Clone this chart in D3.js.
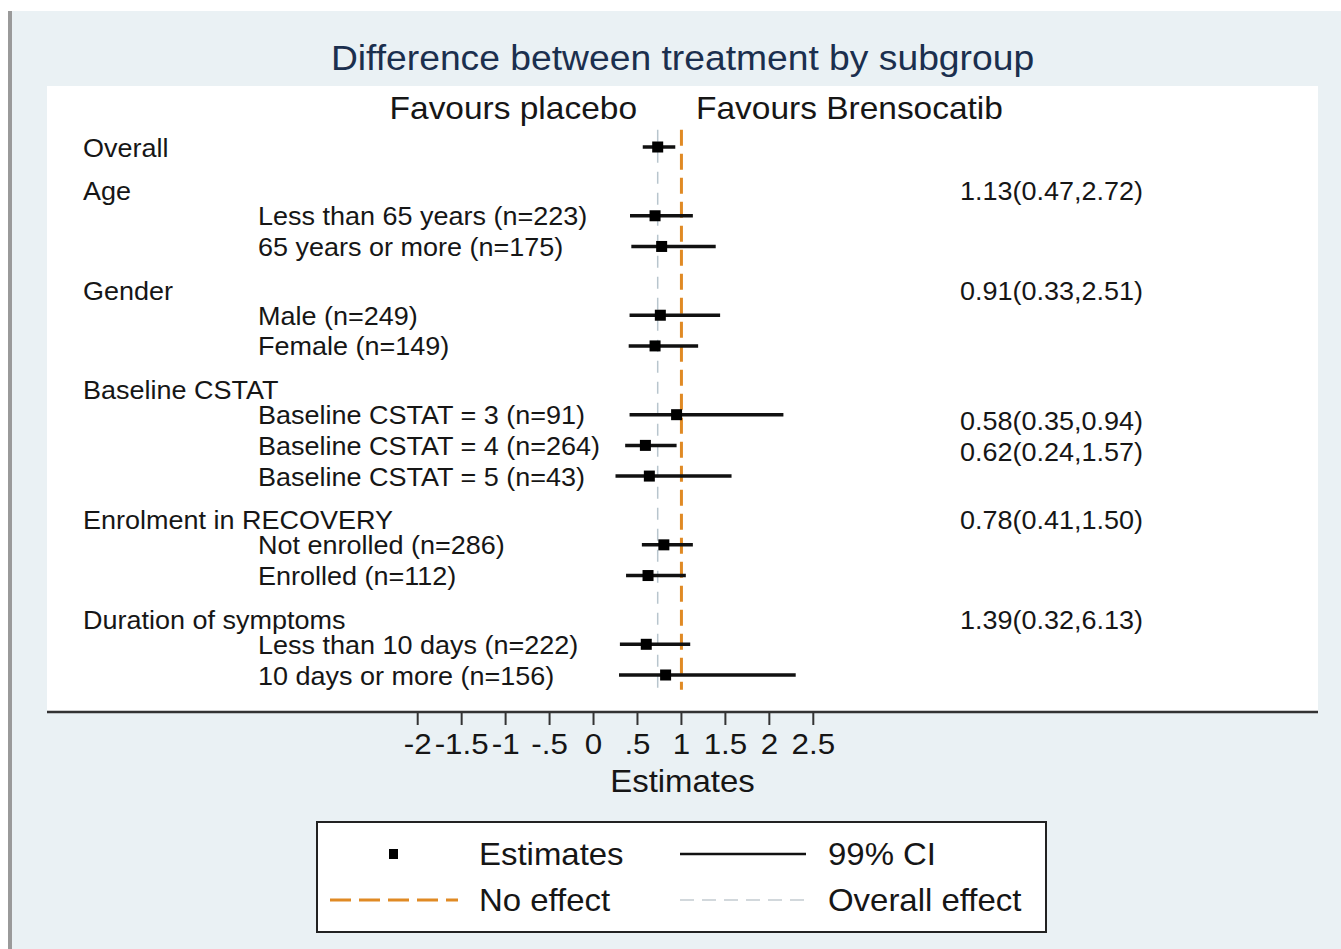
<!DOCTYPE html>
<html>
<head>
<meta charset="utf-8">
<script src="https://cdn.jsdelivr.net/npm/d3@7"></script>
<style>
  body { margin: 0; background: #fff; }
  text { font-family: "Liberation Sans", Arial, sans-serif; }
</style>
</head>
<body>
<script>
// Rows of the forest plot, top to bottom
var rowLabels = ["Overall", "Age", "Less than 65 years (n=223)", "65 years or more (n=175)",
  "Gender", "Male (n=249)", "Female (n=149)",
  "Baseline CSTAT", "Baseline CSTAT = 3 (n=91)", "Baseline CSTAT = 4 (n=264)", "Baseline CSTAT = 5 (n=43)",
  "Enrolment in RECOVERY", "Not enrolled (n=286)", "Enrolled (n=112)",
  "Duration of symptoms", "Less than 10 days (n=222)", "10 days or more (n=156)"];
// 0 = heading, 1 = subgroup
var rowLevel = [0, 0, 1, 1, 0, 1, 1, 0, 1, 1, 1, 0, 1, 1, 0, 1, 1];

var estimates = [0.73, null, 0.70, 0.775, null, 0.76, 0.70, null, 0.945, 0.59, 0.635, null, 0.80, 0.62, null, 0.60, 0.82];
var ciLower   = [0.56, null, 0.415, 0.43, null, 0.41, 0.40, null, 0.41, 0.36, 0.25, null, 0.55, 0.37, null, 0.30, 0.29];
var ciUpper   = [0.93, null, 1.13, 1.39, null, 1.44, 1.19, null, 2.16, 0.945, 1.57, null, 1.13, 1.05, null, 1.10, 2.30];

var interactionText = ["", "1.13(0.47,2.72)", "", "", "0.91(0.33,2.51)", "", "", "",
  "0.58(0.35,0.94)", "0.62(0.24,1.57)", "", "0.78(0.41,1.50)", "", "", "1.39(0.32,6.13)", "", ""];

var xTicks = [-2, -1.5, -1, -0.5, 0, 0.5, 1, 1.5, 2, 2.5];
var noEffect = 1;

var width = 1341, height = 949;
var sx = 1.08; // glyph width stretch of the original export

var svg = d3.select("body").append("svg")
            .attr("width", width)
            .attr("height", height);

function addText(x, y, str, size, anchor, color) {
  return svg.append("text")
            .attr("transform", "translate(" + x + "," + y + ") scale(" + sx + ",1)")
            .attr("font-size", size)
            .attr("text-anchor", anchor || "start")
            .attr("fill", color || "#161616")
            .text(str);
}

// graph region
svg.append("rect").attr("width", width).attr("height", height).attr("fill", "#fff");
svg.append("rect").attr("x", 12).attr("y", 11).attr("width", width - 12).attr("height", height - 11).attr("fill", "#eaf1f4");
svg.append("rect").attr("x", 8).attr("y", 11).attr("width", 4).attr("height", height - 11).attr("fill", "#9a9a9a");

// plot region
var plot = {left: 47, right: 1318, top: 86, bottom: 712};
svg.append("rect")
   .attr("x", plot.left).attr("y", plot.top)
   .attr("width", plot.right - plot.left).attr("height", plot.bottom - plot.top)
   .attr("fill", "#fff");

// row positions: heading gap, heading-to-first-item gap, item step
var pos = [], p = 0;
rowLevel.forEach(function(lv, i) {
  if (i > 0) {
    if (lv === 0) p += 1.42;
    else if (rowLevel[i - 1] === 0) p += 0.82;
    else p += 1;
  }
  pos.push(p);
});

var xScale = d3.scaleLinear().domain([-2, 2.5]).range([417.7, 813.3]);
var yScale = d3.scaleLinear().domain([0, d3.max(pos)]).range([147, 675]);

// reference lines
var refTop = yScale(-0.56), refBottom = yScale(d3.max(pos) + 0.48);
svg.append("line")
   .attr("x1", xScale(estimates[0])).attr("x2", xScale(estimates[0]))
   .attr("y1", refTop).attr("y2", refBottom)
   .attr("stroke", "#b8c5cd").attr("stroke-width", 1.5)
   .attr("stroke-dasharray", "12,9");
svg.append("line")
   .attr("x1", xScale(noEffect)).attr("x2", xScale(noEffect))
   .attr("y1", refTop).attr("y2", refBottom)
   .attr("stroke", "#e08a24").attr("stroke-width", 3)
   .attr("stroke-dasharray", "16,8");

// labels
rowLabels.forEach(function(lab, i) {
  addText(rowLevel[i] === 0 ? 83 : 258, yScale(pos[i]) + 9.5, lab, 25);
});

// interaction estimates on the right
interactionText.forEach(function(t, i) {
  if (!t) return;
  var nudge = rowLevel[i] === 1 ? 0.2 : 0;
  addText(960, yScale(pos[i] + nudge) + 9.5, t, 25);
});

// CIs and estimates
var rows = estimates.map(function(e, i) {
  return {est: e, lo: ciLower[i], hi: ciUpper[i], y: yScale(pos[i])};
}).filter(function(d) { return d.est !== null; });

svg.selectAll(".ci").data(rows).enter().append("line")
   .attr("class", "ci")
   .attr("x1", function(d) { return xScale(d.lo); })
   .attr("x2", function(d) { return xScale(d.hi); })
   .attr("y1", function(d) { return d.y; })
   .attr("y2", function(d) { return d.y; })
   .attr("stroke", "#111").attr("stroke-width", 3.5);

svg.selectAll(".est").data(rows).enter().append("rect")
   .attr("class", "est")
   .attr("x", function(d) { return xScale(d.est) - 5.5; })
   .attr("y", function(d) { return d.y - 5.5; })
   .attr("width", 11).attr("height", 11)
   .attr("fill", "#000");

// x axis
svg.append("line")
   .attr("x1", plot.left).attr("x2", plot.right)
   .attr("y1", plot.bottom).attr("y2", plot.bottom)
   .attr("stroke", "#333").attr("stroke-width", 2.5);

var fmt = function(v) { return String(v).replace("0.", "."); };
xTicks.forEach(function(v) {
  svg.append("line")
     .attr("x1", xScale(v)).attr("x2", xScale(v))
     .attr("y1", plot.bottom).attr("y2", plot.bottom + 13)
     .attr("stroke", "#333").attr("stroke-width", 2);
  addText(xScale(v), 754, fmt(v), 29, "middle");
});
addText((plot.left + plot.right) / 2, 792, "Estimates", 30.5, "middle");

// titles
addText((plot.left + plot.right) / 2, 70, "Difference between treatment by subgroup", 34.5, "middle", "#1b2f4e");
addText(637, 119, "Favours placebo", 31, "end");
addText(696, 119, "Favours Brensocatib", 31, "start");

// legend
svg.append("rect")
   .attr("x", 317).attr("y", 822).attr("width", 729).attr("height", 110)
   .attr("fill", "#fff").attr("stroke", "#222").attr("stroke-width", 2);
svg.append("rect").attr("x", 389).attr("y", 849).attr("width", 9).attr("height", 10).attr("fill", "#000");
addText(479, 865, "Estimates", 30.5);
svg.append("line").attr("x1", 680).attr("x2", 806).attr("y1", 854).attr("y2", 854)
   .attr("stroke", "#111").attr("stroke-width", 2.5);
addText(828, 865, "99% CI", 30.5);
svg.append("line").attr("x1", 330).attr("x2", 458).attr("y1", 900).attr("y2", 900)
   .attr("stroke", "#e08a24").attr("stroke-width", 3).attr("stroke-dasharray", "21,8");
addText(479, 911, "No effect", 30.5);
svg.append("line").attr("x1", 680).attr("x2", 806).attr("y1", 900).attr("y2", 900)
   .attr("stroke", "#c4ccd1").attr("stroke-width", 1.5).attr("stroke-dasharray", "14,8");
addText(828, 911, "Overall effect", 30.5);
</script>
</body>
</html>
